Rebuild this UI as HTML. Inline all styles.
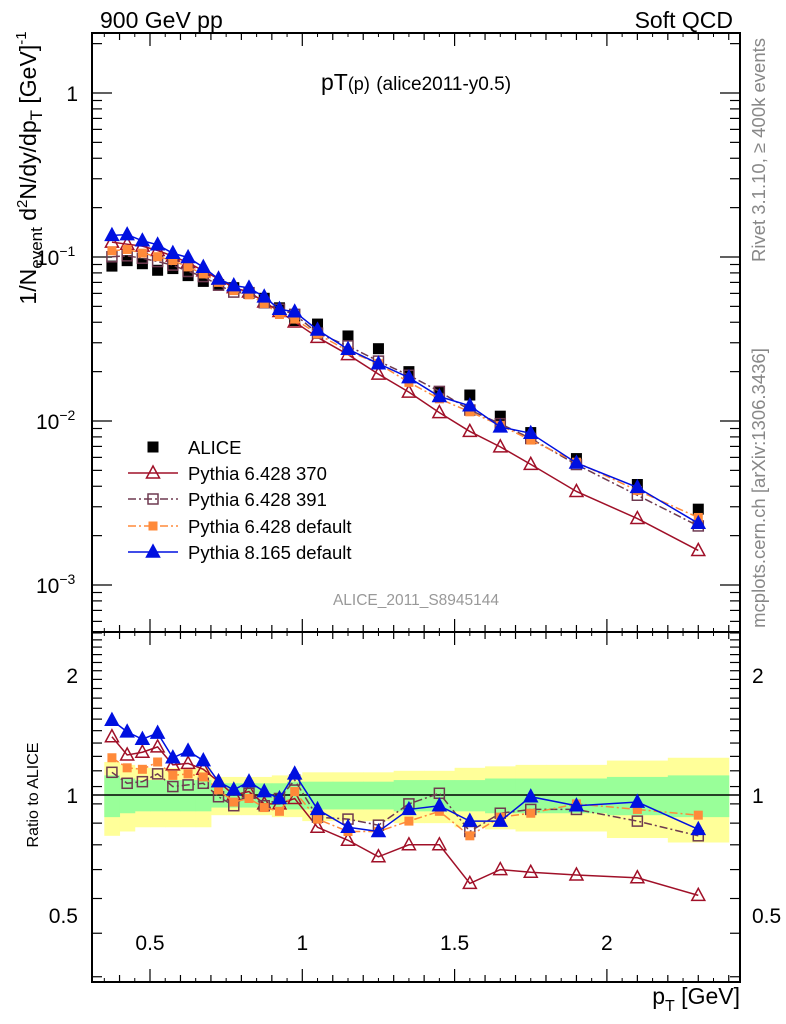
<!DOCTYPE html>
<html><head><meta charset="utf-8"><style>
html,body{margin:0;padding:0;background:#fff;}
svg{display:block;font-family:"Liberation Sans",sans-serif;}
</style></head><body>
<svg id="c" width="786" height="1024" viewBox="0 0 786 1024"></svg>
<script>
const categories=[0.375,0.425,0.475,0.525,0.575,0.625,0.675,0.725,0.775,0.825,0.875,0.925,0.975,1.05,1.15,1.25,1.35,1.45,1.55,1.65,1.75,1.9,2.1,2.3];
const binLo=[0.35,0.4,0.45,0.5,0.55,0.6,0.65,0.7,0.75,0.8,0.85,0.9,0.95,1.0,1.1,1.2,1.3,1.4,1.5,1.6,1.7,1.8,2.0,2.2];
const binHi=[0.4,0.45,0.5,0.55,0.6,0.65,0.7,0.75,0.8,0.85,0.9,0.95,1.0,1.1,1.2,1.3,1.4,1.5,1.6,1.7,1.8,2.0,2.2,2.4];
const aliceValues=[0.088,0.095,0.091,0.083,0.085,0.077,0.071,0.068,0.065,0.060,0.056,0.049,0.041,0.039,0.033,0.0276,0.020,0.0150,0.0144,0.0107,0.0085,0.0059,0.0041,0.0029];
const ratio370=[1.40,1.26,1.28,1.32,1.19,1.20,1.16,1.08,1.0,1.02,0.95,0.95,0.98,0.83,0.77,0.70,0.75,0.75,0.60,0.65,0.64,0.63,0.62,0.56];
const ratio391=[1.14,1.07,1.08,1.13,1.05,1.06,1.07,0.99,0.94,1.01,0.94,0.98,1.09,0.88,0.87,0.84,0.95,1.01,0.81,0.90,0.92,0.92,0.86,0.79];
const ratioP6def=[1.24,1.17,1.16,1.21,1.12,1.13,1.11,1.03,0.96,0.98,0.93,0.91,1.02,0.87,0.81,0.81,0.86,0.91,0.79,0.88,0.90,0.95,0.92,0.89];
const ratioP8def=[1.54,1.44,1.38,1.43,1.24,1.29,1.22,1.08,1.03,1.08,1.02,0.98,1.13,0.92,0.83,0.81,0.92,0.94,0.86,0.86,0.99,0.94,0.96,0.82];
const totErr=[0.21,0.19,0.17,0.17,0.17,0.17,0.17,0.11,0.11,0.11,0.11,0.12,0.12,0.14,0.14,0.14,0.15,0.15,0.17,0.18,0.19,0.19,0.22,0.24];
const statErr=[0.12,0.10,0.09,0.09,0.09,0.09,0.09,0.07,0.07,0.07,0.07,0.07,0.08,0.08,0.08,0.08,0.09,0.09,0.09,0.10,0.10,0.10,0.11,0.12];
const xTicks=[0.5,1,1.5,2];
const ratioTicks=[0.5,1,2];

const NS="http://www.w3.org/2000/svg";
const svg=document.getElementById('c');
function el(tag,attrs,parent){const e=document.createElementNS(NS,tag);for(const k in attrs)e.setAttribute(k,attrs[k]);(parent||svg).appendChild(e);return e;}
const L=92,R=740,T1=33,B1=632,T2=632,B2=982;
const xs=v=>150+(v-0.5)*304.6;
const ym=v=>93-164*Math.log10(v);
const yr=v=>795-120*Math.log2(v);

categories.forEach((c,i)=>{
  const r1=el('rect',{x:xs(binLo[i]),y:yr(1+totErr[i]),width:xs(binHi[i])-xs(binLo[i])+0.5,height:yr(1-totErr[i])-yr(1+totErr[i]),fill:'#ffff99'});
  
  
});
categories.forEach((c,i)=>{
  const r2=el('rect',{x:xs(binLo[i]),y:yr(1+statErr[i]),width:xs(binHi[i])-xs(binLo[i])+0.5,height:yr(1-statErr[i])-yr(1+statErr[i]),fill:'#99ff99'});
  
  
});
el('line',{x1:L,x2:R,y1:yr(1),y2:yr(1),stroke:'#000','stroke-width':1.5});

const f1=el('rect',{x:L,y:T1,width:R-L,height:B1-T1,fill:'none',stroke:'#000','stroke-width':2});


const f2=el('rect',{x:L,y:T2,width:R-L,height:B2-T2,fill:'none',stroke:'#000','stroke-width':2});



for(let v=0.4;v<=2.41;v+=0.1){
  const X=xs(v);const major=Math.abs(v*2-Math.round(v*2))<1e-6;const len=major?13:7;
  [[T1,1],[B1,-1],[T2,1],[B2,-1]].forEach(([y,d])=>el('line',{x1:X,x2:X,y1:y,y2:y+d*len,stroke:'#000','stroke-width':1.2}));
}
for(let v=0.35;v<=2.41;v+=0.1){
  const X=xs(v);
  [[T1,1],[B1,-1],[T2,1],[B2,-1]].forEach(([y,d])=>el('line',{x1:X,x2:X,y1:y,y2:y+d*4,stroke:'#000','stroke-width':1}));
}
xTicks.forEach(v=>{const t=el('text',{x:xs(v),y:950,'font-size':21,'text-anchor':'middle'});t.textContent=String(v);
  });
for(let d=-4;d<=0;d++){for(let m=1;m<=9;m++){const v=m*Math.pow(10,d);const Y=ym(v);if(Y<T1||Y>B1)continue;const len=m==1?20:10;
  el('line',{x1:L,x2:L+len,y1:Y,y2:Y,stroke:'#000','stroke-width':1.2});el('line',{x1:R,x2:R-len,y1:Y,y2:Y,stroke:'#000','stroke-width':1.2});}}
const t1=el('text',{x:78,y:101,'font-size':21,'text-anchor':'end'});t1.textContent='1';

[[-1,ym(0.1)],[-2,ym(0.01)],[-3,ym(0.001)]].forEach(([p,Y])=>{const t=el('text',{x:36,y:Y+8,'font-size':21});
  t.innerHTML='10<tspan dy="-9" font-size="14">−'+(-p)+'</tspan>';
  });
for(let v=0.35;v<=2.6;v+=0.1){const Y=yr(v);if(Y<T2||Y>B2)continue;const maj=[0.5,1,2].some(m=>Math.abs(m-v)<1e-6);const len=maj?20:10;
  el('line',{x1:L,x2:L+len,y1:Y,y2:Y,stroke:'#000','stroke-width':1.2});el('line',{x1:R,x2:R-len,y1:Y,y2:Y,stroke:'#000','stroke-width':1.2});}
ratioTicks.forEach(v=>{const a=el('text',{x:78,y:yr(v)+8,'font-size':21,'text-anchor':'end'});a.textContent=String(v);
  
  const b=el('text',{x:752,y:yr(v)+8,'font-size':21});b.textContent=String(v);
  });

function tri(g,x,y,col,fill){el('polygon',{points:`${x},${y-7} ${x-6.5},${y+5} ${x+6.5},${y+5}`,fill:fill?col:'#fff','fill-opacity':fill?1:0,stroke:col,'stroke-width':1.5},g);}
function sq(g,x,y,col,fill,s){el('rect',{x:x-s/2,y:y-s/2,width:s,height:s,fill:fill?col:'none',stroke:col,'stroke-width':fill?0:1.5},g);}
const series=[
 {name:'pythia-6428-370',r:ratio370,col:'#a01028',dash:'',m:'tri',fill:false,label:'Pythia 6.428 370'},
 {name:'pythia-6428-391',r:ratio391,col:'#6e3a50',dash:'8,3,2,3',m:'sq',fill:false,label:'Pythia 6.428 391'},
 {name:'pythia-6428-default',r:ratioP6def,col:'#ff8a3a',dash:'8,3,2,3',m:'sq',fill:true,label:'Pythia 6.428 default'},
 {name:'pythia-8165-default',r:ratioP8def,col:'#0010e0',dash:'',m:'tri',fill:true,label:'Pythia 8.165 default'}];
function drawSeries(s,yf,vals,gname){
  const g=el('g',{});
  el('polyline',{points:categories.map((c,i)=>xs(c)+','+yf(vals[i])).join(' '),fill:'none',stroke:s.col,'stroke-width':1.5,'stroke-dasharray':s.dash},g);
  categories.forEach((c,i)=>{if(s.m=='tri')tri(g,xs(c),yf(vals[i]),s.col,s.fill);else sq(g,xs(c),yf(vals[i]),s.col,s.fill,s.fill?9:10);});
}
const ga=el('g',{});
categories.forEach((c,i)=>sq(ga,xs(c),ym(aliceValues[i]),'#000',true,11));
series.forEach(s=>{drawSeries(s,ym,categories.map((c,i)=>aliceValues[i]*s.r[i]),s.name+'-main');});
series.forEach(s=>{drawSeries(s,yr,s.r,s.name+'-ratio');});

const lg=el('g',{});
const rows=[447,473,499,526,552];
sq(lg,153,rows[0],'#000',true,11);
let tt=el('text',{x:188,y:rows[0]+7,'font-size':18.5},lg);tt.textContent='ALICE';
series.forEach((s,i)=>{const y=rows[i+1];el('line',{x1:128,x2:178,y1:y,y2:y,stroke:s.col,'stroke-width':1.5,'stroke-dasharray':s.dash},lg);
  if(s.m=='tri')tri(lg,153,y,s.col,s.fill);else sq(lg,153,y,s.col,s.fill,s.fill?9:10);
  const t=el('text',{x:188,y:y+7,'font-size':18.5},lg);t.textContent=s.label;});

function txt(x,y,size,s,attrs,name){const t=el('text',Object.assign({x:x,y:y,'font-size':size},attrs||{}));t.innerHTML=s;return t;}
txt(100,28,23,'900 GeV pp',{},'energy-label');
txt(733,28,23,'Soft QCD',{'text-anchor':'end'},'process-label');
txt(416,90,23,'pT<tspan font-size="18">(p)</tspan> <tspan font-size="19">(alice2011-y0.5)</tspan>',{'text-anchor':'middle'},'plot-title');
txt(416,605,15.5,'ALICE_2011_S8945144',{'text-anchor':'middle',fill:'#999'},'analysis-id');
txt(0,0,18.5,'Rivet 3.1.10, ≥ 400k events',{'text-anchor':'middle',fill:'#888',transform:'translate(765,150) rotate(-90)'},'rivet-version');
txt(0,0,18.5,'mcplots.cern.ch [arXiv:1306.3436]',{'text-anchor':'middle',fill:'#888',transform:'translate(765,488) rotate(-90)'},'mcplots-credit');
txt(0,0,23,'1/N<tspan dy="6" font-size="17">event</tspan><tspan dy="-6"> d</tspan><tspan dy="-9" font-size="15">2</tspan><tspan dy="9">N/dy/dp</tspan><tspan dy="6" font-size="17">T</tspan><tspan dy="-6">  [GeV]</tspan><tspan dy="-10" font-size="15">-1</tspan>',{'text-anchor':'middle',transform:'translate(36,168) rotate(-90)'},'y-axis-title');
txt(0,0,16,'Ratio to ALICE',{'text-anchor':'middle',transform:'translate(38,795) rotate(-90)'},'ratio-axis-title');
txt(740,1004,23,'p<tspan dy="7" font-size="16">T</tspan><tspan dy="-7"> [GeV]</tspan>',{'text-anchor':'end'},'x-axis-title');
</script>
</body></html>
